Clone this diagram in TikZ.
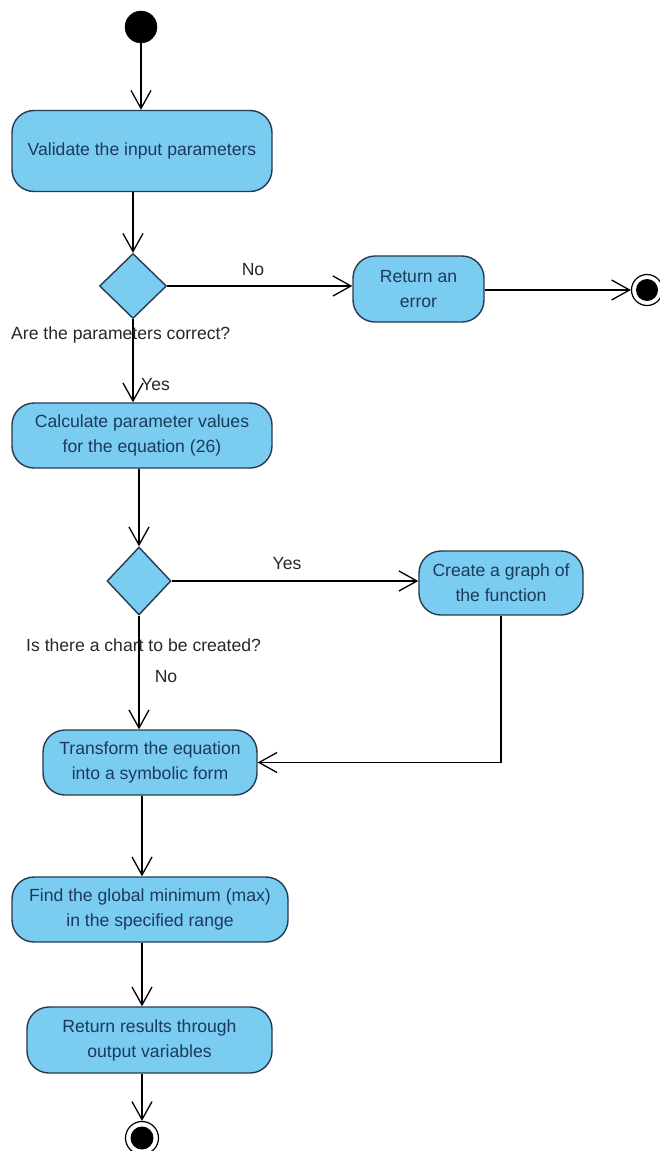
\documentclass[tikz,border=0pt]{standalone}
\usepackage{fontspec}
\setmainfont{Liberation Sans}
\usetikzlibrary{arrows.meta,shapes.geometric}
\definecolor{boxfill}{RGB}{122,204,240}
\definecolor{boxline}{RGB}{38,58,80}
\definecolor{boxtext}{RGB}{28,58,92}
\definecolor{labeltext}{RGB}{40,40,40}
\tikzset{
  actbox/.style={draw=boxline, line width=1.4pt, fill=boxfill, rounded corners=22pt,
    text=boxtext, align=center, inner sep=0pt, font=\fontsize{17.6}{25}\selectfont},
  decision/.style={draw=boxline, line width=1.4pt, fill=boxfill, diamond, inner sep=0pt},
  startnode/.style={circle, fill=black, draw=black, inner sep=0pt, minimum size=32pt},
  endouter/.style={circle, draw=black, line width=1.2pt, fill=white, inner sep=0pt},
  endinner/.style={circle, fill=black, inner sep=0pt},
  flow/.style={draw=black, line width=1.3pt, -{Straight Barb[length=18pt,width=20pt,line width=1.3pt]}},
  lbl/.style={text=labeltext, inner sep=0pt, font=\fontsize{17.6}{20}\selectfont}
}
\begin{document}
\begin{tikzpicture}[x=1pt,y=-1pt]
\useasboundingbox[fill=white] (0,0) rectangle (660,1151);

\node[startnode] (start) at (141,27) {};
\node[actbox, minimum width=260pt, minimum height=81pt] (b1) at (142,151) {Validate the input parameters};
\node[decision, minimum width=67pt, minimum height=65pt] (d1) at (133,286) {};
\node[actbox, minimum width=131pt, minimum height=66pt] (berr) at (418.5,289) {Return an\\error};
\node[endouter, minimum size=31pt] (e1) at (647,290) {};
\node[endinner, minimum size=22pt] (e1in) at (e1) {};
\node[actbox, minimum width=260pt, minimum height=65pt] (b2) at (142,435.5) {Calculate parameter values\\for the equation (26)};
\node[decision, minimum width=64pt, minimum height=68pt] (d2) at (139,581) {};
\node[actbox, minimum width=164pt, minimum height=64pt] (b3) at (501,583) {Create a graph of\\the function};
\node[actbox, minimum width=214pt, minimum height=65pt] (b4) at (150,762.5) {Transform the equation\\into a symbolic form};
\node[actbox, minimum width=276pt, minimum height=65pt] (b5) at (150,909.5) {Find the global minimum (max)\\in the specified range};
\node[actbox, minimum width=245pt, minimum height=66pt] (b6) at (149.5,1040) {Return results through\\output variables};
\node[endouter, minimum size=33pt] (e2) at (142,1138) {};
\node[endinner, minimum size=23pt] (e2in) at (e2) {};

\coordinate (x142) at (142,0);

\draw[flow] (start.south) -- (start.south |- b1.north);
\draw[flow] (d1 |- b1.south) -- (d1.north);
\draw[flow] (d1.east) -- (d1.east -| berr.west);
\draw[flow] (berr.east |- e1) -- (e1.west);
\draw[flow] (d1.south) -- (d1.south |- b2.north);
\draw[flow] (d2 |- b2.south) -- (d2.north);
\draw[flow] (d2.east) -- (d2.east -| b3.west);
\draw[flow] (d2.south) -- (d2.south |- b4.north);
\draw[flow] (b3.south) |- (b4.east);
\draw[flow] (x142 |- b4.south) -- (x142 |- b5.north);
\draw[flow] (x142 |- b5.south) -- (x142 |- b6.north);
\draw[flow] (x142 |- b6.south) -- (e2.north);

\node[lbl] (lno1) at (253,270) {No};
\node[lbl, anchor=west] (lq1) at (11,335) {Are the parameters correct?};
\node[lbl, anchor=west] (lyes1) at (141,385) {Yes};
\node[lbl] (lyes2) at (287,564) {Yes};
\node[lbl, anchor=west] (lq2) at (26,645) {Is there a chart to be created?};
\node[lbl] (lno2) at (166,677) {No};
\end{tikzpicture}
\end{document}
